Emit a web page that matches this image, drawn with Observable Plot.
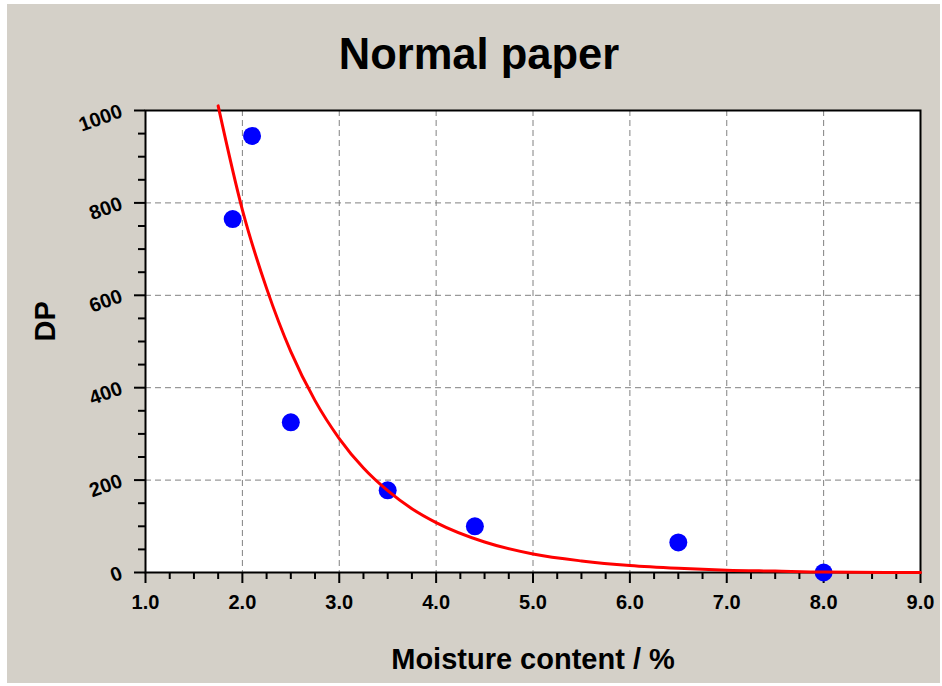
<!DOCTYPE html>
<html>
<head>
<meta charset="utf-8">
<script src="https://cdn.jsdelivr.net/npm/d3@7"></script>
<script src="https://cdn.jsdelivr.net/npm/@observablehq/plot@0.6"></script>
<style>
  html, body { margin: 0; padding: 0; background: #ffffff; }
  #wrap {
    position: absolute; left: 7px; top: 4px; width: 933px; height: 679px;
    background: #d4d0c8; overflow: hidden;
    font-family: "Liberation Sans", Arial, sans-serif;
  }
  #title {
    position: absolute; left: 11px; right: 0; top: 29px;
    text-align: center; font-size: 43.5px; line-height: 43.5px; font-weight: bold; color: #000;
  }
  #chart { position: absolute; left: 0; top: 80px; }
  #chart g[aria-label$="tick label"] { font-size: 20px !important; font-weight: bold !important; }
</style>
</head>
<body>
<div id="wrap">
  <div id="title">Normal paper</div>
  <div id="chart"></div>
</div>
<script>
// Measured points
const moisture = [1.9, 2.1, 2.5, 3.5, 4.4, 6.5, 8.0];
const dp = [765, 945, 325, 178, 100, 65, 0];
// Fitted curve
const fitMoisture = [1.75, 2.0, 2.25, 2.5, 2.75, 3.0, 3.25, 3.5, 3.75, 4.0, 4.5, 5.0, 5.5, 6.0, 6.5, 7.0, 7.5, 8.0, 9.0];
const fitDP = [1010, 785, 615, 478, 372, 290, 226, 177, 138, 108, 66, 40, 25, 15, 9, 5, 3, 1, 0];
// Axis ticks
const xTicks = [1, 2, 3, 4, 5, 6, 7, 8, 9];
const xMinor = [1.25, 1.5, 1.75, 2.25, 2.5, 2.75, 3.25, 3.5, 3.75, 4.25, 4.5, 4.75, 5.25, 5.5, 5.75, 6.25, 6.5, 6.75, 7.25, 7.5, 7.75, 8.25, 8.5, 8.75];
const yTicks = [0, 200, 400, 600, 800, 1000];
const yMinor = [50, 100, 150, 250, 300, 350, 450, 500, 550, 650, 700, 750, 850, 900, 950];
const xGrid = [2, 3, 4, 5, 6, 7, 8];
const yGrid = [200, 400, 600, 800];
const xLabel = "Moisture content / %";
const yLabel = "DP";

const points = moisture.map((m, i) => ({m, dp: dp[i]}));
const fit = fitMoisture.map((m, i) => ({m, dp: fitDP[i]}));

const chart = Plot.plot({
  width: 933,
  height: 599,
  marginLeft: 138,
  marginRight: 20,
  marginTop: 26,
  marginBottom: 111,
  x: {domain: [1, 9]},
  y: {domain: [0, 1000]},
  style: {
    background: "transparent",
    fontFamily: "'Liberation Sans', Arial, sans-serif",
    fontSize: "19px",
    fontWeight: "bold",
    color: "#000"
  },
  marks: [
    Plot.frame({fill: "#ffffff"}),
    Plot.gridX(xGrid, {stroke: "#808080", strokeOpacity: 1, strokeWidth: 1, strokeDasharray: "6,4"}),
    Plot.gridY(yGrid, {stroke: "#808080", strokeOpacity: 1, strokeWidth: 1, strokeDasharray: "6,4"}),
    Plot.axisX(xMinor, {tickSize: 7, text: null, strokeWidth: 2, label: null}),
    Plot.axisY(yMinor, {tickSize: 7, text: null, strokeWidth: 2, label: null}),
    Plot.axisX(xTicks, {tickSize: 11, tickPadding: 11, strokeWidth: 2, tickFormat: d3.format(".1f"), label: null, fill: "#000", fontSize: 20, fontWeight: "bold"}),
    Plot.axisY(yTicks, {tickSize: 11, tickPadding: 13, tickRotate: -20, strokeWidth: 2, tickFormat: d => String(d), label: null, fill: "#000", fontSize: 20, fontWeight: "bold"}),
    Plot.frame({stroke: "#000", strokeWidth: 2}),
    Plot.dot(points, {x: "m", y: "dp", r: 9, fill: "#0000ff", stroke: "none"}),
    Plot.line(fit, {x: "m", y: "dp", stroke: "#ff0000", strokeWidth: 3, curve: "monotone-x"}),
    Plot.text([xLabel], {frameAnchor: "bottom", dy: 96, lineAnchor: "bottom", fontSize: 29, fontWeight: "bold", fill: "#000"}),
    Plot.text([yLabel], {frameAnchor: "left", dx: -91, rotate: -90, lineAnchor: "bottom", fontSize: 29, fontWeight: "bold", fill: "#000"})
  ]
});
document.getElementById("chart").appendChild(chart);
</script>
</body>
</html>
